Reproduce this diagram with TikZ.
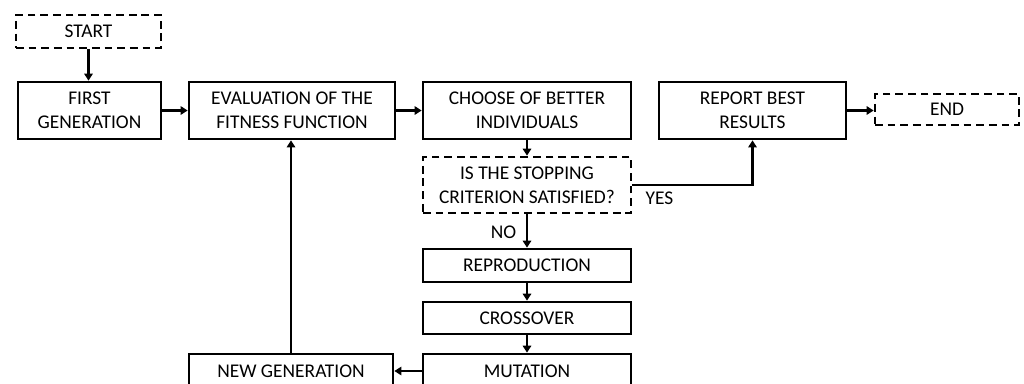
\documentclass[tikz,border=0pt]{standalone}
\usepackage{fontspec}
\setmainfont{Carlito}
\usetikzlibrary{arrows.meta}

\begin{document}
\begin{tikzpicture}[x=0.025cm, y=-0.025cm,
    box/.style={draw, line width=1.9pt, align=center, inner sep=0pt,
        font=\fontsize{13.8}{17.2}\selectfont},
    dbox/.style={box, dash pattern=on 5.5pt off 3.5pt},
    arr/.style={line width=1.5pt, -{Triangle[length=5pt, width=6pt]}}]
    \clip (0,0) rectangle (1024,383);
    % top row
    \node[dbox, minimum width=3.625cm, minimum height=0.825cm] (start) at (88.5,31.5) {START};
    \node[box, minimum width=3.575cm, minimum height=1.425cm] (first) at (89.5,110.5) {FIRST\\GENERATION};
    \node[box, minimum width=5.15cm, minimum height=1.425cm] (eval) at (292,110.5) {EVALUATION OF THE\\FITNESS FUNCTION};
    \node[box, minimum width=5.2cm, minimum height=1.425cm] (choose) at (527,110.5) {CHOOSE OF BETTER\\INDIVIDUALS};
    \node[box, minimum width=4.675cm, minimum height=1.425cm] (report) at (752.5,110.5) {REPORT BEST\\RESULTS};
    \node[dbox, minimum width=3.6cm, minimum height=0.775cm] (end) at (947,109.5) {END};
    % middle column
    \node[dbox, minimum width=5.2cm, minimum height=1.4cm] (stop) at (527,185) {IS THE STOPPING\\CRITERION SATISFIED?};
    \node[box, minimum width=5.2cm, minimum height=0.825cm] (repro) at (527,265.5) {REPRODUCTION};
    \node[box, minimum width=5.2cm, minimum height=0.8cm] (cross) at (527,318) {CROSSOVER};
    \node[box, minimum width=5.2cm, minimum height=0.85cm] (mut) at (527,371) {MUTATION};
    \node[box, minimum width=5.1cm, minimum height=0.85cm] (newgen) at (291,371) {NEW GENERATION};
    % connectors
    \draw[arr] (start.south) -- (start.south |- first.north);
    \draw[arr] (first) -- (eval);
    \draw[arr] (eval) -- (choose);
    \draw[arr] (choose) -- (stop);
    \draw[arr] (stop.east) -| (report.south);
    \draw[arr] (report.east) -- (report.east -| end.west);
    \draw[arr] (stop) -- (repro);
    \draw[arr] (repro) -- (cross);
    \draw[arr] (cross) -- (mut);
    \draw[arr] (mut) -- (newgen);
    \draw[arr] (newgen.north) -- (newgen.north |- eval.south);
    \node[font=\fontsize{13.8}{17.2}\selectfont] (yes) at (659.5,198) {YES};
    \node[font=\fontsize{13.8}{17.2}\selectfont] (no) at (503.5,232) {NO};
\end{tikzpicture}
\end{document}
